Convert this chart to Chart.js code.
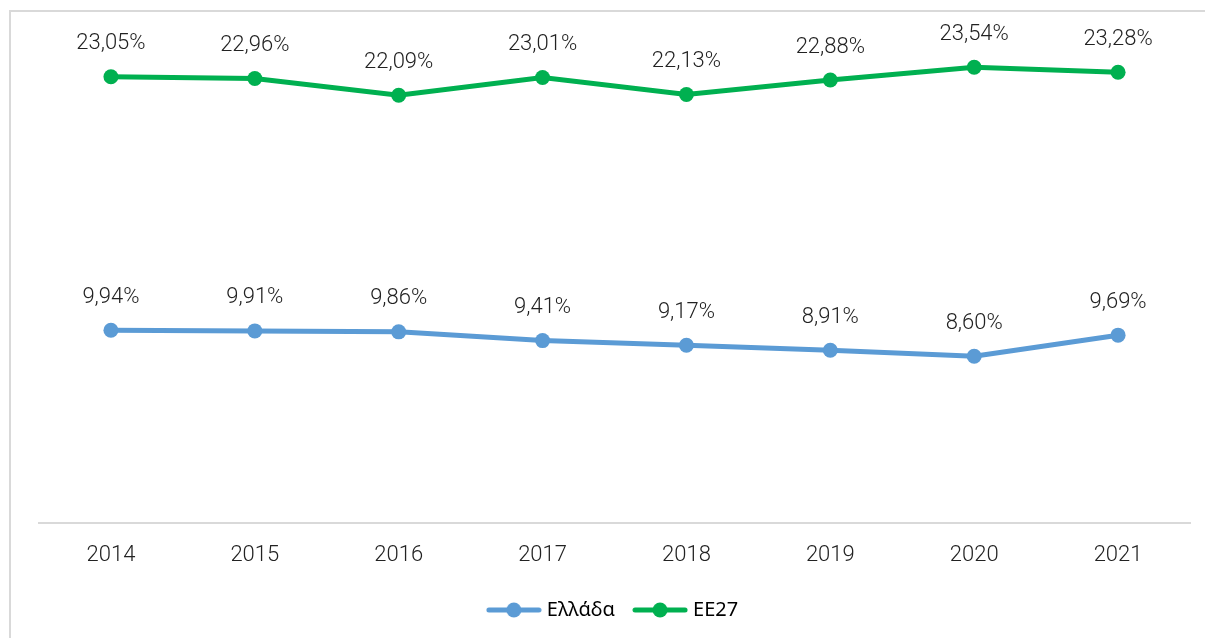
<!DOCTYPE html>
<html>
<head>
<meta charset="utf-8">
<script src="https://cdn.jsdelivr.net/npm/chart.js@4/dist/chart.umd.min.js"></script>
<style>
    html, body { margin: 0; padding: 0; background: #ffffff; }
    #wrap { position: relative; width: 1205px; height: 638px; overflow: hidden; }
    #frame {
        position: absolute; left: 9px; top: 10px; width: 1300px; height: 800px;
        border: 2px solid #d9d9d9; pointer-events: none;
    }
    canvas { position: absolute; left: 0; top: 0; }
</style>
</head>
<body>
<div id="wrap">
    <canvas id="chart" width="1205" height="638"></canvas>
    <div id="frame"></div>
</div>
<script>
// years on the x axis
const years = ['2014', '2015', '2016', '2017', '2018', '2019', '2020', '2021'];

// percentages
const greeceValues = [9.94, 9.91, 9.86, 9.41, 9.17, 8.91, 8.60, 9.69];
const eu27Values = [23.05, 22.96, 22.09, 23.01, 22.13, 22.88, 23.54, 23.28];

const seriesNames = ['Ελλάδα', 'ΕΕ27'];
const seriesColors = ['#5b9bd5', '#00b050'];

const labelFont = '300 22px Roboto';

/**
 * Legend marker: a short line with a dot in the middle
 */
function makeLegendMarker(color) {
    const c = document.createElement('canvas');
    c.width = 56;
    c.height = 16;
    const g = c.getContext('2d');
    g.strokeStyle = color;
    g.lineWidth = 5;
    g.lineCap = 'round';
    g.beginPath();
    g.moveTo(3, 8);
    g.lineTo(53, 8);
    g.stroke();
    g.fillStyle = color;
    g.beginPath();
    g.arc(28, 8, 7.5, 0, Math.PI * 2);
    g.fill();
    return c;
}

const markers = seriesColors.map(makeLegendMarker);

// draws the value above every point
const valueLabels = {
    id: 'valueLabels',
    afterDatasetsDraw(chart) {
        const ctx = chart.ctx;
        ctx.save();
        ctx.font = labelFont;
        ctx.fillStyle = '#222222';
        ctx.textAlign = 'center';
        ctx.textBaseline = 'middle';
        chart.data.datasets.forEach((ds, i) => {
            const meta = chart.getDatasetMeta(i);
            meta.data.forEach((pt, j) => {
                const txt = ds.data[j].toFixed(2).replace('.', ',') + '%';
                ctx.fillText(txt, pt.x, pt.y - 33);
            });
        });
        ctx.restore();
    }
};

const makeDataset = (label, values, color) => ({
    label: label,
    data: values,
    borderColor: color,
    backgroundColor: color,
    borderWidth: 5,
    pointRadius: 7.5,
    pointHoverRadius: 7.5,
    pointBorderWidth: 0,
    pointStyle: 'circle',
    tension: 0
});

new Chart(document.getElementById('chart'), {
    type: 'line',
    data: {
        labels: years,
        datasets: [
            makeDataset(seriesNames[0], greeceValues, seriesColors[0]),
            makeDataset(seriesNames[1], eu27Values, seriesColors[1])
        ]
    },
    options: {
        responsive: false,
        animation: false,
        layout: {
            padding: { left: 39, right: 15, top: 39, bottom: 8 }
        },
        plugins: {
            tooltip: { enabled: false },
            legend: {
                position: 'bottom',
                labels: {
                    usePointStyle: true,
                    pointStyleWidth: 46,
                    padding: 22,
                    color: '#000000',
                    font: { family: 'Noto Sans', size: 20 },
                    generateLabels: (chart) => {
                        const items = Chart.defaults.plugins.legend.labels.generateLabels(chart);
                        items.forEach((it, i) => { it.pointStyle = markers[i]; });
                        return items;
                    }
                }
            }
        },
        scales: {
            x: {
                offset: true,
                grid: { display: false },
                border: { display: true, color: '#d9d9d9', width: 2 },
                ticks: {
                    color: '#222222',
                    padding: 12,
                    font: { family: 'Roboto', size: 22, weight: '300' }
                },
                afterFit: (scale) => { scale.height -= 3; }
            },
            y: {
                display: false,
                min: 0,
                max: 25
            }
        }
    },
    plugins: [valueLabels]
});
</script>
</body>
</html>
